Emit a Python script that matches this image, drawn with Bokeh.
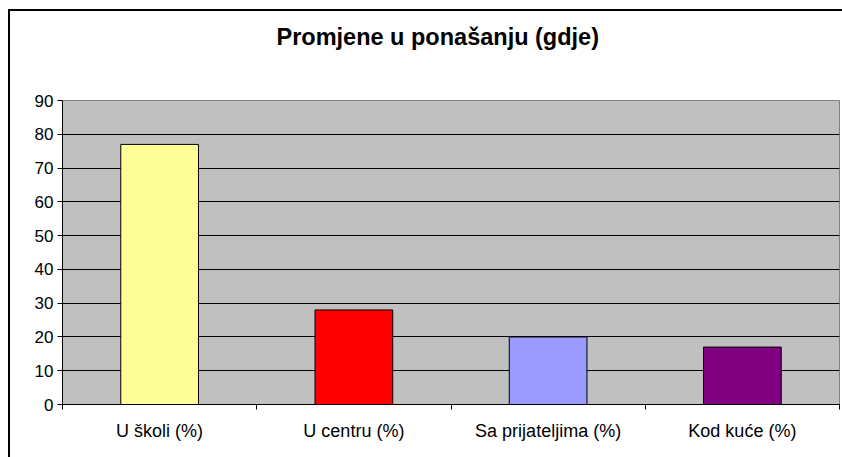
from bokeh.plotting import figure
from bokeh.models import Range1d, FixedTicker, ColumnDataSource, LinearAxis
from bokeh.embed import file_html
from bokeh.resources import INLINE

title = "Promjene u ponašanju (gdje)"
categories = ["U školi (%)", "U centru (%)", "Sa prijateljima (%)", "Kod kuće (%)"]
values = [77, 28, 20, 17]
colors = ["#FFFF99", "#FF0000", "#9999FF", "#800080"]
y_ticks = [0, 10, 20, 30, 40, 50, 60, 70, 80, 90]

n = len(categories)
centers = [i + 0.5 for i in range(n)]
bounds = list(range(n + 1))

src = ColumnDataSource(dict(x=centers, top=values, color=colors, cat=categories))

FONT = "Liberation Sans"

p = figure(width=842, height=457, output_backend="svg", toolbar_location=None,
           x_range=Range1d(0, n), y_range=Range1d(0, 90),
           min_border_left=62, min_border_right=3, min_border_top=100, min_border_bottom=53)

# invisible spacer between the title and the plot area
spacer = LinearAxis(ticker=FixedTicker(ticks=[n / 2]), axis_line_color=None,
                    major_tick_line_color=None, minor_tick_line_color=None,
                    major_tick_out=47, major_tick_in=0,
                    major_label_standoff=0,
                    major_label_overrides={n / 2: ""},
                    major_label_text_font_size="0px")
p.add_layout(spacer, "above")

p.title.text = title
p.title.text_font = FONT
p.title.text_font_size = "23.5px"
p.title.text_font_style = "bold"
p.title.text_color = "black"
p.title.align = "left"
p.title.offset = 214
p.title.standoff = 8

p.background_fill_color = "#C0C0C0"
p.border_fill_color = None
p.outline_line_color = "#808080"
p.outline_line_width = 1

# outer chart border (only left and top edges fall inside the picture)
p.styles = {
    "background": ("linear-gradient(#000, #000) 8px 9px / 2px 100% no-repeat, "
                   "linear-gradient(#000, #000) 8px 9px / 100% 2px no-repeat, #ffffff"),
}

p.vbar(x="x", top="top", width=0.4, bottom=0, fill_color="color",
       line_color="black", line_width=1, source=src)

# y axis
p.yaxis.ticker = FixedTicker(ticks=y_ticks)
p.yaxis.axis_line_color = "black"
p.yaxis.major_tick_line_color = "black"
p.yaxis.major_tick_out = 5
p.yaxis.major_tick_in = 0
p.yaxis.minor_tick_line_color = None
p.yaxis.major_label_text_font = FONT
p.yaxis.major_label_text_font_size = "17px"
p.yaxis.major_label_text_color = "black"
p.yaxis.major_label_standoff = 4

# x axis (labels at category centres, ticks at category boundaries)
xax = p.below[0]
xax.ticker = FixedTicker(ticks=centers, minor_ticks=bounds)
xax.major_label_overrides = {c: lab for c, lab in zip(centers, categories)}
xax.axis_line_color = "black"
xax.major_tick_line_color = None
xax.minor_tick_line_color = "black"
xax.minor_tick_out = 5
xax.minor_tick_in = 0
xax.major_label_text_font = FONT
xax.major_label_text_font_size = "18px"
xax.major_label_text_color = "black"
xax.major_label_standoff = 10

p.xgrid.grid_line_color = None
p.ygrid.ticker = FixedTicker(ticks=y_ticks)
p.ygrid.grid_line_color = "black"
p.ygrid.grid_line_width = 1

open("out.html", "w").write(file_html(p, INLINE))
